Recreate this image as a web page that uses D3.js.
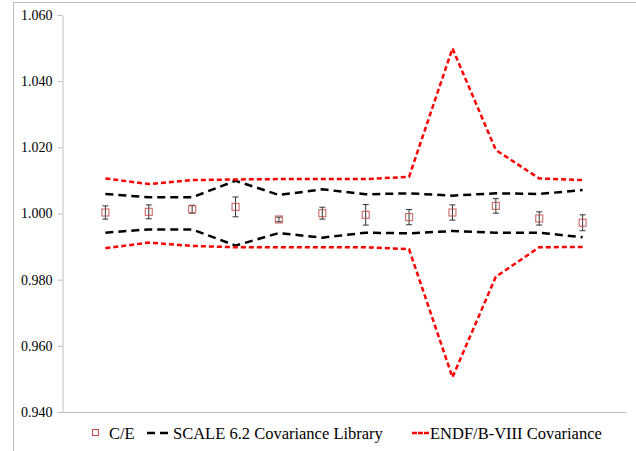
<!DOCTYPE html>
<html><head><meta charset="utf-8">
<script src="https://cdn.jsdelivr.net/npm/d3@7"></script>
<style>html,body{margin:0;padding:0;background:#fff;}
svg text{font-family:"Liberation Serif","Times New Roman","DejaVu Serif",serif;}</style>
</head><body>
<script>
const categories = ["1","2","3","4","5","6","7","8","9","10","11","12"];
const ceValues = [1.0003,1.0005,1.0013,1.0020,0.9982,1.0001,0.9996,0.9989,1.0003,1.0023,0.9985,0.9972];
const ceErrors = [0.0020,0.0021,0.0012,0.0030,0.0007,0.0018,0.0031,0.0023,0.0023,0.0022,0.0020,0.0024];
const scaleUpper = [1.0059,1.0049,1.0049,1.0099,1.0056,1.0073,1.0058,1.0061,1.0054,1.0061,1.0059,1.0071];
const scaleLower = [0.9942,0.9952,0.9952,0.9903,0.9941,0.9927,0.9942,0.9940,0.9947,0.9942,0.9942,0.9928];
const endfUpper = [1.0106,1.0089,1.0101,1.0103,1.0104,1.0104,1.0104,1.0111,1.0499,1.0192,1.0106,1.0101];
const endfLower = [0.9895,0.9912,0.9902,0.9898,0.9898,0.9898,0.9898,0.9892,0.9505,0.9809,0.9898,0.9899];
const yTicks = [0.940,0.960,0.980,1.000,1.020,1.040,1.060];
const legendLabels = ["C/E","SCALE 6.2 Covariance Library","ENDF/B-VIII Covariance"];

const W = 636, H = 451;
const svg = d3.select("body").append("svg").attr("width", W).attr("height", H);
svg.append("rect").attr("x", 13.5).attr("y", 2.5).attr("width", 640).attr("height", 460)
  .attr("fill", "none").attr("stroke", "#bfbfbf").attr("stroke-width", 1);

const x = d3.scalePoint().domain(categories).range([62, 626]).padding(1);
const y = d3.scaleLinear().domain([0.940, 1.060]).range([412, 15]);

const font = '"Liberation Serif","Times New Roman","DejaVu Serif",serif';

// y axis
const yAxis = svg.append("g").attr("transform", "translate(62.5,0)")
  .call(d3.axisLeft(y).tickValues(yTicks).tickFormat(d3.format(".3f")).tickSize(5).tickSizeOuter(0));
yAxis.attr("font-family", null).attr("font-size", null);
yAxis.select(".domain").attr("stroke", "#bfbfbf");
yAxis.selectAll(".tick line").attr("stroke", "#bfbfbf");
yAxis.selectAll(".tick text").style("font-family", font).style("font-size", "14px").attr("fill", "#000").attr("x", -10);

// x axis line
svg.append("line").attr("x1", 62).attr("x2", 626).attr("y1", y(0.940) + 0.5).attr("y2", y(0.940) + 0.5)
  .attr("stroke", "#bfbfbf");

const line = d3.line().x((d, i) => x(categories[i])).y(d => y(d));

[scaleUpper, scaleLower].forEach(s => {
  svg.append("path").attr("d", line(s)).attr("fill", "none").attr("stroke", "#000")
    .attr("stroke-width", 2.5).attr("stroke-dasharray", "8,5");
});
[endfUpper, endfLower].forEach(s => {
  svg.append("path").attr("d", line(s)).attr("fill", "none").attr("stroke", "#ff0000")
    .attr("stroke-width", 2.5).attr("stroke-dasharray", "5,3");
});

// error bars
const eb = svg.append("g");
ceValues.forEach((v, i) => {
  const cx = x(categories[i]);
  const y1 = y(v - ceErrors[i]), y2 = y(v + ceErrors[i]);
  eb.append("line").attr("x1", cx).attr("x2", cx).attr("y1", y1).attr("y2", y2).attr("stroke", "#333").attr("stroke-width", 1);
  eb.append("line").attr("x1", cx - 3).attr("x2", cx + 3).attr("y1", y1).attr("y2", y1).attr("stroke", "#333").attr("stroke-width", 1);
  eb.append("line").attr("x1", cx - 3).attr("x2", cx + 3).attr("y1", y2).attr("y2", y2).attr("stroke", "#333").attr("stroke-width", 1);
});
svg.append("g").selectAll("rect").data(ceValues).join("rect")
  .attr("x", (d, i) => x(categories[i]) - 3.5).attr("y", d => y(d) - 3.5)
  .attr("width", 7).attr("height", 7).attr("fill", "none")
  .attr("stroke", "#c0504d").attr("stroke-opacity", 0.8).attr("stroke-width", 1.2);

// legend
const ly = 433;
const lg = svg.append("g");
lg.append("rect").attr("x", 92.5).attr("y", ly - 3.5).attr("width", 6).attr("height", 6)
  .attr("fill", "none").attr("stroke", "#c0504d").attr("stroke-width", 1);
lg.append("text").attr("x", 109).attr("y", ly + 5.5).text(legendLabels[0]);
lg.append("line").attr("x1", 147).attr("x2", 171).attr("y1", ly).attr("y2", ly)
  .attr("stroke", "#000").attr("stroke-width", 2.5).attr("stroke-dasharray", "8,5");
lg.append("text").attr("x", 173).attr("y", ly + 5.5).text(legendLabels[1]);
lg.append("line").attr("x1", 412).attr("x2", 429).attr("y1", ly).attr("y2", ly)
  .attr("stroke", "#ff0000").attr("stroke-width", 2.5).attr("stroke-dasharray", "5,1");
lg.append("text").attr("x", 430).attr("y", ly + 5.5).text(legendLabels[2]);
lg.selectAll("text").style("font-family", font).style("font-size", "16.5px").attr("fill", "#000");
</script>
</body></html>
